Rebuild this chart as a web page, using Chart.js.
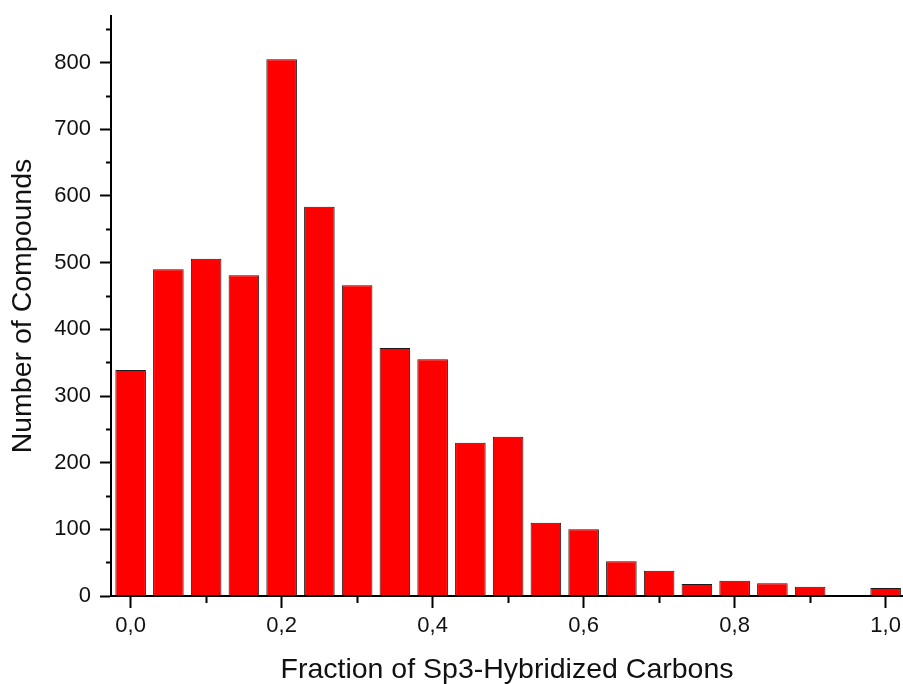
<!DOCTYPE html>
<html>
<head>
<meta charset="utf-8">
<title>Fsp3 distribution</title>
<script src="https://cdn.jsdelivr.net/npm/chart.js"></script>
<style>
  html, body { margin: 0; padding: 0; background: #fff; }
  #wrap { width: 903px; height: 684px; position: relative; }
</style>
</head>
<body>
<div id="wrap"><canvas id="fsp3Chart"></canvas></div>
<script>
// histogram bins (fraction of sp3 carbons) and compound counts per bin
const binCenters = [0, 0.05, 0.1, 0.15, 0.2, 0.25, 0.3, 0.35, 0.4, 0.45, 0.5,
                    0.55, 0.6, 0.65, 0.7, 0.75, 0.8, 0.85, 0.9, 0.95, 1.0];
const compoundCounts = [339, 490, 506, 481, 805, 584, 466, 372, 355, 230, 239,
                        110, 100, 52, 38, 18, 23, 19, 14, 0, 12];

// axis ticks; empty label = minor tick
const xTickValues = [0, 0.1, 0.2, 0.3, 0.4, 0.5, 0.6, 0.7, 0.8, 0.9, 1.0];
const xTickLabels = ['0,0', '', '0,2', '', '0,4', '', '0,6', '', '0,8', '', '1,0'];
const yTickValues = [0, 50, 100, 150, 200, 250, 300, 350, 400, 450, 500,
                     550, 600, 650, 700, 750, 800, 850];
const yTickLabels = ['0', '', '100', '', '200', '', '300', '', '400', '', '500',
                     '', '600', '', '700', '', '800', ''];

const fontFamily = '"Liberation Sans", Arial, Helvetica, sans-serif';
const textColor = '#111';

const isMinor = (labels) => (ctx) => labels[ctx.index] === '';

const ctx = document.getElementById('fsp3Chart').getContext('2d');
new Chart(ctx, {
    type: 'bar',
    data: {
        datasets: [{
            data: binCenters.map((x, i) => ({ x: x, y: compoundCounts[i] })),
            backgroundColor: '#ff0000',
            borderColor: '#1a1a1a',
            borderWidth: 1,
            barPercentage: 0.81,
            categoryPercentage: 1.0
        }]
    },
    options: {
        responsive: true,
        maintainAspectRatio: false,
        animation: false,
        layout: { padding: { top: 16, right: 0, bottom: 0, left: 0 } },
        plugins: {
            legend: { display: false },
            tooltip: { enabled: false }
        },
        scales: {
            x: {
                type: 'linear',
                min: -0.026,
                max: 1.023,
                bounds: 'data',
                offset: false,
                afterBuildTicks: (scale) => {
                    scale.ticks = xTickValues.map(v => ({ value: v }));
                },
                afterFit: (scale) => {
                    scale.height = 88;
                    scale.paddingLeft = 0;
                    scale.paddingRight = 0;
                },
                grid: {
                    offset: false,
                    drawOnChartArea: false,
                    color: '#000',
                    tickLength: 12,
                    tickWidth: 2,
                    tickColor: '#000',
                    tickBorderDash: (c) => isMinor(xTickLabels)(c) ? [6, 40] : []
                },
                border: { display: true, color: '#000', width: 2, z: 1 },
                ticks: {
                    autoSkip: false,
                    maxRotation: 0,
                    minRotation: 0,
                    padding: 5,
                    color: textColor,
                    font: { family: fontFamily, size: 22 },
                    callback: (value, index) => xTickLabels[index]
                },
                title: {
                    display: true,
                    text: 'Fraction of Sp3-Hybridized Carbons',
                    color: textColor,
                    font: { family: fontFamily, size: 28.5, lineHeight: 1 },
                    padding: { top: 0, bottom: 0 }
                }
            },
            y: {
                min: 0,
                max: 870,
                bounds: 'data',
                afterBuildTicks: (scale) => {
                    scale.ticks = yTickValues.map(v => ({ value: v }));
                },
                afterFit: (scale) => {
                    scale.width = 111;
                    scale.paddingTop = 0;
                    scale.paddingBottom = 0;
                },
                grid: {
                    drawOnChartArea: false,
                    color: '#000',
                    tickLength: 11,
                    tickWidth: 2,
                    tickColor: '#000',
                    tickBorderDash: (c) => isMinor(yTickLabels)(c) ? [0, 6, 4, 40] : []
                },
                border: { display: true, color: '#000', width: 2, z: 1 },
                ticks: {
                    autoSkip: false,
                    padding: 9,
                    color: textColor,
                    font: { family: fontFamily, size: 22 },
                    callback: (value, index) => yTickLabels[index]
                },
                title: {
                    display: true,
                    text: 'Number of Compounds',
                    color: textColor,
                    font: { family: fontFamily, size: 28.5 },
                    padding: { top: 6, bottom: 0 }
                }
            }
        }
    }
});
</script>
</body>
</html>
